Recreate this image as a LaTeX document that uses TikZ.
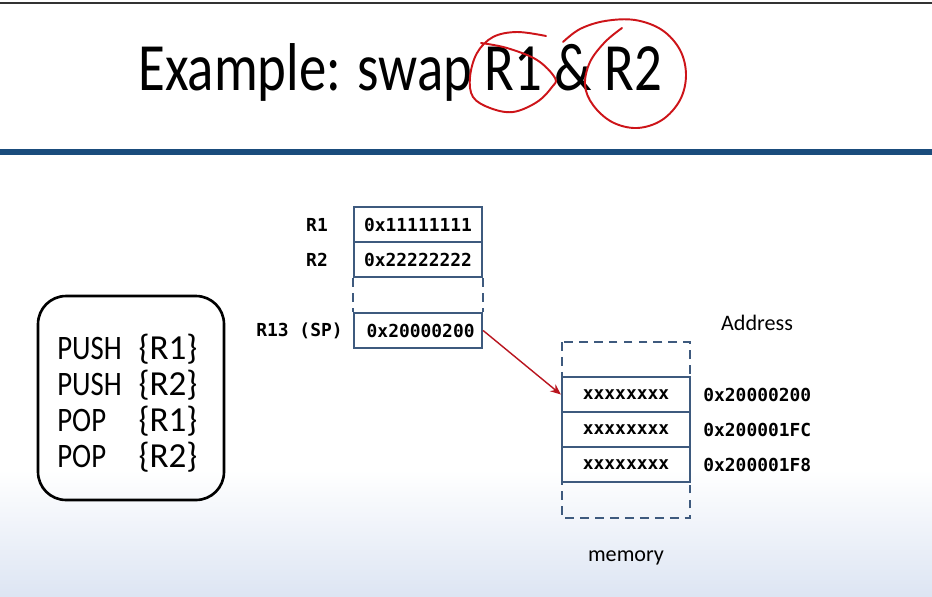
\documentclass[tikz,border=0pt]{standalone}
\usepackage{array}
\usepackage{fontspec}
\setmainfont{Carlito}
\setmonofont{DejaVu Sans Mono}
\newfontfamily\titlefont[FakeStretch=0.81]{Carlito}
\newfontfamily\progfont[FakeStretch=0.84]{Carlito}
\usetikzlibrary{arrows.meta}

\definecolor{boxblue}{RGB}{62,90,126}
\definecolor{barblue}{RGB}{26,76,124}
\definecolor{penred}{RGB}{205,20,25}
\definecolor{arrred}{RGB}{185,20,30}
\definecolor{paleblue}{RGB}{221,229,243}

\begin{document}
\begin{tikzpicture}[x=0.02cm,y=-0.02cm,
    cell/.style={draw=boxblue, line width=1.3pt, minimum width=2.56cm, minimum height=0.7cm,
                 inner sep=0pt, font=\fontsize{10.2}{12}\ttfamily\bfseries},
    monolbl/.style={inner sep=0pt, font=\fontsize{10.2}{12}\ttfamily\bfseries},
    pen/.style={penred, line width=1.1pt, line cap=round}]

            % page
            \useasboundingbox (0,0) rectangle (932,596);
            \fill[white] (0,0) rectangle (932,596);
            \shade[top color=white, bottom color=paleblue] (0,470) rectangle (932,596);
            \draw[black!80, line width=1pt] (0,3)--(932,3);
            \fill[barblue] (0,149) rectangle (932,155);

            % title
            \node[anchor=base west, inner sep=0pt, font=\titlefont\fontsize{38.5}{40}\selectfont]
                (title) at (138,90) {Example: swap R1 \& R2};

            % red marks
            \draw[pen] plot[smooth, tension=0.6] coordinates {(546,36) (517,32) (493,37) (477,53)
                (470,77) (473,97) (490,108) (513,112) (537,102) (552,87) (555,78)
                (537,60) (507,48) (481,43)};
            \draw[pen] plot[smooth, tension=0.6] coordinates {(563,42) (580,29) (605,21) (635,20)
                (662,30) (680,50) (686,75) (680,100) (662,120) (637,128) (612,122)
                (593,105) (585,85) (590,62) (605,42) (622,28)};

            % instructions
            \node[draw=black, line width=1.5pt, rounded corners=0.56cm, minimum width=3.72cm,
                  minimum height=4.08cm, inner sep=0pt] (code) at (131,398) {};
            \node[anchor=north west, inner sep=0pt, font=\progfont\fontsize{19.5}{19.8}\selectfont]
                (prog) at (57,334)
                {\begin{tabular}{@{}l@{\hspace{9.5pt}}>{\normalfont\fontsize{20}{19.8}\selectfont}l@{}}
                 PUSH & \{R1\}\\ PUSH & \{R2\}\\ POP & \{R1\}\\ POP & \{R2\}
                 \end{tabular}};

            % registers
            \coordinate (r1c) at (418,224.5);
            \coordinate (r2c) at (418,259.5);
            \coordinate (spc) at (418,330.5);
            \node[cell] (r1) at (r1c) {0x11111111};
            \node[cell] (r2) at (r2c) {0x22222222};
            \node[cell] (sp) at (spc) {\hspace{3pt}0x20000200};
            \draw[boxblue, line width=1.3pt, dash pattern=on 5pt off 3.5pt] (r2.south west)--(sp.north west);
            \draw[boxblue, line width=1.3pt, dash pattern=on 5pt off 3.5pt] (r2.south east)--(sp.north east);

            \node[monolbl] (lr1) at (317,224.5) {R1};
            \node[monolbl] (lr2) at (317,260) {R2};
            \node[monolbl, anchor=east] (lsp) at (343,331) {R13 (SP)};

            % memory
            \draw[boxblue, line width=1.3pt, dash pattern=on 5pt off 3.5pt] (562,342) rectangle (690,518);
            \node[cell] (m1) at (626,394.5) {xxxxxxxx};
            \node[cell] (m2) at (626,429.5) {xxxxxxxx};
            \node[cell] (m3) at (626,464.5) {xxxxxxxx};

            \node[monolbl, anchor=west] (a1) at (703,394.5) {0x20000200};
            \node[monolbl, anchor=west] (a2) at (703,429.5) {0x200001FC};
            \node[monolbl, anchor=west] (a3) at (703,464.5) {0x200001F8};

            \node[inner sep=0pt, font=\fontsize{12.6}{14}\selectfont] (addr) at (757,323) {Address};
            \node[inner sep=0pt, font=\fontsize{12.6}{14}\selectfont] (mem) at (626,558) {memory};

            % stack pointer
            \draw[arrred, line width=0.8pt, -{Stealth[length=6pt, width=5pt]}] (sp.east)--(m1.west);
        \end{tikzpicture}
\end{document}
